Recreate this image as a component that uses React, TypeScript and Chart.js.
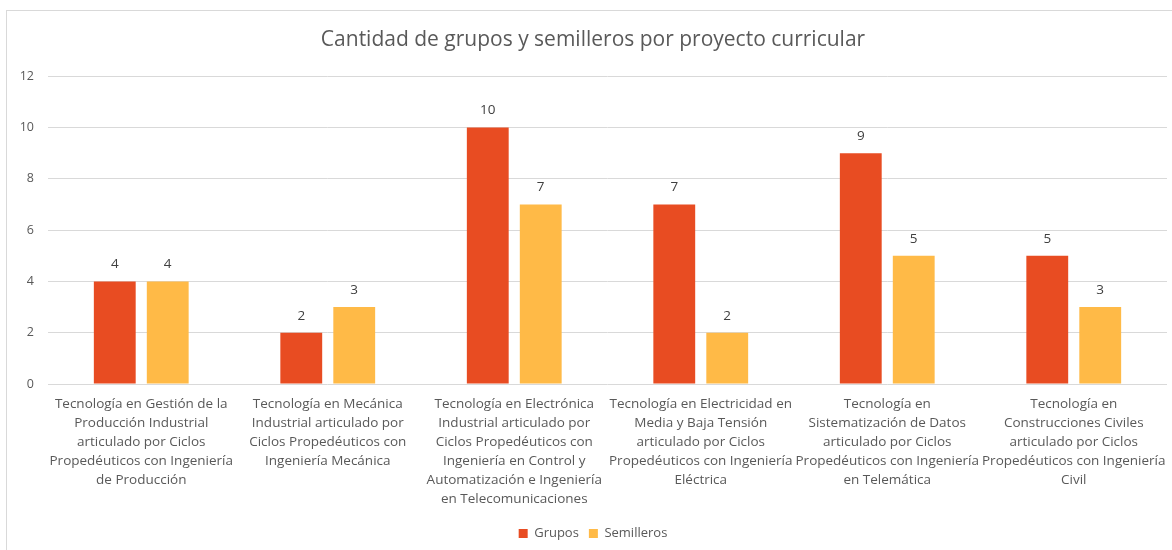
import React, { useEffect, useRef } from "react";
import { Chart, registerables } from "chart.js";

Chart.register(...registerables);

const categories: string[][] = [
  ["Tecnología en Gestión de la", "Producción Industrial", "articulado por Ciclos", "Propedéuticos con Ingeniería", "de Producción"],
  ["Tecnología en Mecánica", "Industrial articulado por", "Ciclos Propedéuticos con", "Ingeniería Mecánica"],
  ["Tecnología en Electrónica", "Industrial articulado por", "Ciclos Propedéuticos con", "Ingeniería en Control y", "Automatización e Ingeniería", "en Telecomunicaciones"],
  ["Tecnología en Electricidad en", "Media y Baja Tensión", "articulado por Ciclos", "Propedéuticos con Ingeniería", "Eléctrica"],
  ["Tecnología en", "Sistematización de Datos", "articulado por Ciclos", "Propedéuticos con Ingeniería", "en Telemática"],
  ["Tecnología en", "Construcciones Civiles", "articulado por Ciclos", "Propedéuticos con Ingeniería", "Civil"],
];
const grupos = [4, 2, 10, 7, 9, 5];
const semilleros = [4, 3, 7, 2, 5, 3];
const seriesNames = ["Grupos", "Semilleros"];
const titleText = "Cantidad de grupos y semilleros por proyecto curricular";
const yMin = 0;
const yMax = 12;
const yStep = 2;

const FONT = "'Open Sans', Lato, sans-serif";

const dataLabels = {
  id: "dataLabels",
  afterDatasetsDraw(chart: any) {
    const ctx = chart.ctx;
    ctx.save();
    ctx.font = `13.5px ${FONT}`;
    ctx.fillStyle = "#404040";
    ctx.textAlign = "center";
    ctx.textBaseline = "middle";
    chart.data.datasets.forEach((ds: any, i: number) => {
      const meta = chart.getDatasetMeta(i);
      meta.data.forEach((el: any, j: number) => {
        ctx.fillText(String(ds.data[j]), el.x, el.y - 17);
      });
    });
    ctx.restore();
  },
};

export default function App() {
  const ref = useRef<HTMLCanvasElement | null>(null);
  useEffect(() => {
    if (!ref.current) return;
    const chart = new Chart(ref.current, {
      type: "bar",
      data: {
        labels: categories,
        datasets: [
          { label: seriesNames[0], data: grupos, backgroundColor: "#E84C22", categoryPercentage: 0.568, barPercentage: 0.79 },
          { label: seriesNames[1], data: semilleros, backgroundColor: "#FFBA47", categoryPercentage: 0.568, barPercentage: 0.79 },
        ],
      },
      options: {
        animation: false,
        responsive: false,
        maintainAspectRatio: false,
        layout: { padding: { left: 19, right: 5, top: 0, bottom: 0 } },
        plugins: {
          title: {
            display: true,
            text: titleText,
            color: "#595959",
            font: { family: FONT, size: 21, weight: "normal" },
            padding: { top: 27, bottom: 24 },
          },
          legend: {
            position: "bottom",
            labels: {
              color: "#595959",
              font: { family: FONT, size: 13 },
              boxWidth: 9,
              boxHeight: 9,
              padding: 10,
            },
          },
          tooltip: { enabled: false },
        },
        scales: {
          x: {
            grid: { display: false, drawTicks: false },
            border: { display: false },
            ticks: {
              color: "#595959",
              font: { family: FONT, size: 13.5, lineHeight: 19 / 13.5 },
              padding: 11,
              maxRotation: 0,
              minRotation: 0,
              autoSkip: false,
            },
            afterFit: (scale: any) => {
              scale.height -= 3;
              scale.paddingLeft = 0;
              scale.paddingRight = 0;
            },
          },
          y: {
            min: yMin,
            max: yMax,
            grid: { color: "#D9D9D9", drawTicks: false },
            border: { display: false },
            ticks: {
              stepSize: yStep,
              color: "#595959",
              font: { family: FONT, size: 12.5 },
              padding: 14,
            },
            afterFit: (scale: any) => {
              scale.width = 29;
            },
          },
        },
      },
      plugins: [dataLabels],
    });
    return () => chart.destroy();
  }, []);

  return (
    <div style={{ position: "fixed", left: 0, top: 0, width: 1172, height: 550, overflow: "hidden", background: "#fff" }}>
      <div style={{ position: "absolute", left: 6, top: 10, width: 1200, height: 600, border: "1px solid #D9D9D9" }} />
      <canvas ref={ref} width={1172} height={550} style={{ position: "absolute", left: 0, top: 0 }} />
    </div>
  );
}
